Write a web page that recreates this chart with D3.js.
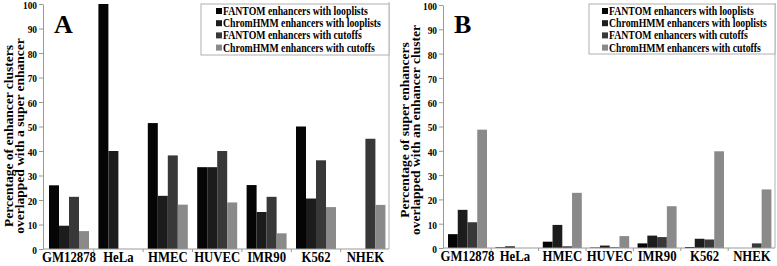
<!DOCTYPE html>
<html>
<head>
<meta charset="utf-8">
<script src="https://cdn.jsdelivr.net/npm/d3@7"></script>
<style>
  body { margin: 0; background: #fff; }
  text { font-family: "Liberation Serif", "Times New Roman", serif; font-weight: bold; fill: #000; }
</style>
</head>
<body>
<div id="chart"></div>
<script>
let width = 777;
let height = 266;

// data
const categories = ["GM12878", "HeLa", "HMEC", "HUVEC", "IMR90", "K562", "NHEK"];
const seriesNames = ["FANTOM enhancers with looplists", "ChromHMM enhancers with looplists",
                     "FANTOM enhancers with cutoffs", "ChromHMM enhancers with cutoffs"];
const seriesColors = ["#050505", "#1c1c1c", "#383838", "#8a8a8a"];
const yTicks = [0, 10, 20, 30, 40, 50, 60, 70, 80, 90, 100];

// panel A: enhancer clusters overlapped with a super enhancer
const fantomLoopA = [26, 100, 51.4, 33.4, 26.1, 50, 0];
const chromLoopA  = [9.5, 40, 21.7, 33.4, 15.1, 20.6, 0];
const fantomCutA  = [21.3, 0, 38.2, 40, 21.3, 36.2, 45];
const chromCutA   = [7.3, 0, 18.1, 19, 6.4, 17.1, 18];

// panel B: super enhancers overlapped with an enhancer cluster
const fantomLoopB = [5.7, 0.3, 2.6, 0.2, 1.9, 0.4, 0];
const chromLoopB  = [15.7, 0.7, 9.5, 1.0, 5.1, 3.8, 0];
const fantomCutB  = [10.6, 0, 0.7, 0.3, 4.5, 3.5, 1.9];
const chromCutB   = [48.7, 0, 22.7, 4.9, 17.2, 39.8, 24.1];

const sx = 0.85; // the figure's text is squeezed horizontally

let svg = d3.select("#chart").append("svg")
    .attr("width", width).attr("height", height);

function drawPanel(p) {
    let g = svg.append("g");
    let rows = categories.map((c, i) => ({cat: c, vals: p.series.map(s => s[i])}));

    let y = d3.scaleLinear().domain([0, 100]).range([p.bottom, p.top]);
    let x0 = d3.scaleBand()
        .domain(categories)
        .range([p.barStart, p.barStart + 6 * p.step + p.bw])
        .paddingInner((p.step - p.bw) / p.step)
        .paddingOuter(0);
    let x1 = d3.scaleBand().domain(d3.range(seriesNames.length)).range([0, x0.bandwidth()]);

    // right border of plot
    g.append("line")
        .attr("x1", p.right).attr("x2", p.right)
        .attr("y1", p.top - 2).attr("y2", p.bottom)
        .attr("stroke", "#b0b0b0");

    // bars
    g.append("g").selectAll("g")
        .data(rows)
        .join("g")
        .attr("transform", d => `translate(${x0(d.cat)},0)`)
        .selectAll("rect")
        .data(d => d.vals.map((v, j) => ({v, j})))
        .join("rect")
        .attr("x", d => x1(d.j))
        .attr("y", d => y(d.v))
        .attr("width", x1.bandwidth())
        .attr("height", d => y(0) - y(d.v))
        .attr("fill", d => seriesColors[d.j]);

    // y axis
    let yAxis = g.append("g")
        .attr("transform", `translate(${p.axisX},0)`)
        .call(d3.axisLeft(y).tickValues(yTicks).tickSize(4).tickSizeOuter(0));
    yAxis.select(".domain").attr("stroke", "#999");
    yAxis.selectAll(".tick line").attr("stroke", "#999");
    yAxis.selectAll(".tick text")
        .attr("x", -6 / sx)
        .attr("dy", "0.4em")
        .attr("transform", `scale(${sx},1)`)
        .style("font-size", "11px")
        .style("font-family", "Liberation Serif")
        .style("font-weight", "bold");

    // x axis
    let xAxis = g.append("g")
        .attr("transform", `translate(0,${p.bottom})`)
        .call(d3.axisBottom(x0).tickSize(0).tickPadding(0));
    xAxis.select(".domain").remove();
    xAxis.append("line")
        .attr("x1", p.axisX).attr("x2", p.right)
        .attr("stroke", "#999");
    let gap = p.step - p.bw;
    xAxis.selectAll(".sep")
        .data(categories.slice(1))
        .join("line")
        .attr("x1", d => x0(d) - gap / 2).attr("x2", d => x0(d) - gap / 2)
        .attr("y1", 0).attr("y2", 3)
        .attr("stroke", "#999");
    xAxis.selectAll(".tick text")
        .attr("y", 0).attr("dy", 0)
        .attr("transform", `translate(0,13) scale(${sx},1)`)
        .style("font-size", "15px")
        .style("font-family", "Liberation Serif")
        .style("font-weight", "bold");

    // y title
    let title = g.append("text")
        .attr("transform", `translate(${p.titleX},${p.titleY}) rotate(-90)`)
        .attr("text-anchor", "middle")
        .style("font-size", "13.5px");
    title.append("tspan").attr("x", 0).attr("dy", 0).text(p.title1);
    title.append("tspan").attr("x", 0).attr("dy", 11).text(p.title2);

    // panel letter
    g.append("text")
        .attr("x", p.letterX).attr("y", p.letterY)
        .style("font-size", "26px")
        .text(p.letter);

    // legend
    let legend = g.append("g").attr("transform", `translate(${p.legX},${p.legY})`);
    legend.append("rect")
        .attr("width", p.legW).attr("height", p.legH)
        .attr("fill", "#fff").attr("stroke", "#b0b0b0");
    let items = legend.selectAll(".item")
        .data(seriesNames)
        .join("g")
        .attr("transform", (d, i) => `translate(${p.legPad},${7 + i * 12.2})`);
    items.append("rect")
        .attr("x", 0).attr("y", -3)
        .attr("width", 6).attr("height", 6)
        .attr("fill", (d, i) => seriesColors[i]);
    items.append("text")
        .attr("x", 7 / sx).attr("y", 4)
        .attr("transform", `scale(${sx},1)`)
        .style("font-size", "11.5px")
        .text(d => d);
}

drawPanel({
    series: [fantomLoopA, chromLoopA, fantomCutA, chromCutA],
    axisX: 43, right: 389, top: 4, bottom: 249,
    barStart: 49, step: 49.4, bw: 40,
    title1: "Percentage of enhancer clusters",
    title2: "overlapped with a super enhancer",
    titleX: 12.5, titleY: 136,
    letter: "A", letterX: 54, letterY: 33,
    legX: 201, legY: 4, legW: 188, legH: 51, legPad: 15
});

drawPanel({
    series: [fantomLoopB, chromLoopB, fantomCutB, chromCutB],
    axisX: 443, right: 775, top: 5, bottom: 248,
    barStart: 448, step: 47.4, bw: 39,
    title1: "Percentage of super enhancers",
    title2: "overlapped with an enhancer cluster",
    titleX: 409, titleY: 130,
    letter: "B", letterX: 454, letterY: 33,
    legX: 589, legY: 4, legW: 186, legH: 50, legPad: 13
});
</script>
</body>
</html>
